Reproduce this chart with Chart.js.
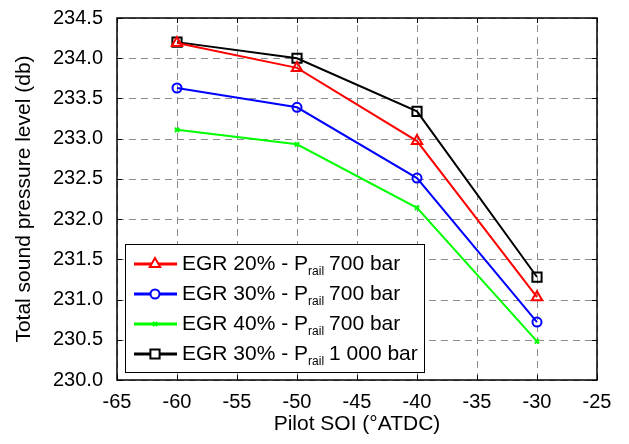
<!DOCTYPE html>
<html>
<head>
<meta charset="utf-8">
<script src="https://cdn.jsdelivr.net/npm/chart.js@4/dist/chart.umd.min.js"></script>
<style>
  html, body { margin: 0; padding: 0; background: #fff; }
  #wrap { width: 629px; height: 444px; }
</style>
</head>
<body>
<div id="wrap"><canvas id="c" width="629" height="444"></canvas></div>
<script>
// data
const soi = [-60, -50, -40, -30];
const egr20_700 = [234.19, 233.88, 232.97, 231.03];
const egr30_700 = [233.63, 233.39, 232.51, 230.72];
const egr40_700 = [233.11, 232.93, 232.14, 230.48];
const egr30_1000 = [234.2, 234.0, 233.34, 231.28];
const seriesNames = ['EGR 20% - P', 'EGR 30% - P', 'EGR 40% - P', 'EGR 30% - P'];
const seriesTails = ['700 bar', '700 bar', '700 bar', '1 000 bar'];
const xTicks = [-65, -60, -55, -50, -45, -40, -35, -30, -25];
const yTicks = [230.0, 230.5, 231.0, 231.5, 232.0, 232.5, 233.0, 233.5, 234.0, 234.5];

const FONT = 'Liberation Sans, Arial, Helvetica, sans-serif';

function pts(vals) {
  return soi.map((x, i) => ({ x: x, y: vals[i] }));
}

const styles = [
  { color: '#ff0000', pointStyle: 'triangle', radius: 6 },
  { color: '#0000ff', pointStyle: 'circle', radius: 4.5 },
  { color: '#00ff00', pointStyle: 'crossRot', radius: 3 },
  { color: '#000000', pointStyle: 'rect', radius: 6.5 }
];
const allVals = [egr20_700, egr30_700, egr40_700, egr30_1000];

const datasets = allVals.map((v, i) => ({
  label: seriesNames[i] + 'rail ' + seriesTails[i],
  data: pts(v),
  borderColor: styles[i].color,
  backgroundColor: 'rgba(0,0,0,0)',
  pointBorderColor: styles[i].color,
  pointBackgroundColor: 'rgba(0,0,0,0)',
  pointStyle: styles[i].pointStyle,
  pointRadius: styles[i].radius,
  pointBorderWidth: 2,
  borderWidth: 2,
  tension: 0
}));

// dashed grid drawn under the lines
const gridPlugin = {
  id: 'dashGrid',
  beforeDatasetsDraw(chart) {
    const ctx = chart.ctx;
    const a = chart.chartArea;
    const xs = chart.scales.x, ys = chart.scales.y;
    ctx.save();
    ctx.strokeStyle = '#8c8c8c';
    ctx.lineWidth = 1;
    ctx.setLineDash([7, 5]);
    xTicks.forEach(v => {
      const px = Math.round(xs.getPixelForValue(v)) + 0.5;
      ctx.beginPath();
      ctx.moveTo(px, a.bottom); ctx.lineTo(px, a.top);
      ctx.stroke();
    });
    yTicks.forEach(v => {
      const py = Math.round(ys.getPixelForValue(v)) + 0.5;
      ctx.beginPath();
      ctx.moveTo(a.left, py); ctx.lineTo(a.right, py);
      ctx.stroke();
    });
    ctx.restore();
  }
};

// frame, inner ticks and legend with subscripts
const framePlugin = {
  id: 'frame',
  afterDraw(chart) {
    const ctx = chart.ctx;
    const a = chart.chartArea;
    const xs = chart.scales.x, ys = chart.scales.y;
    ctx.save();
    ctx.strokeStyle = '#000';
    ctx.lineWidth = 1.5;
    ctx.setLineDash([]);
    ctx.strokeRect(a.left, a.top, a.right - a.left, a.bottom - a.top);
    ctx.lineWidth = 1;
    const t = 5;
    xTicks.forEach(v => {
      const px = Math.round(xs.getPixelForValue(v)) + 0.5;
      ctx.beginPath();
      ctx.moveTo(px, a.bottom); ctx.lineTo(px, a.bottom - t);
      ctx.moveTo(px, a.top); ctx.lineTo(px, a.top + t);
      ctx.stroke();
    });
    yTicks.forEach(v => {
      const py = Math.round(ys.getPixelForValue(v)) + 0.5;
      ctx.beginPath();
      ctx.moveTo(a.left, py); ctx.lineTo(a.left + t, py);
      ctx.moveTo(a.right, py); ctx.lineTo(a.right - t, py);
      ctx.stroke();
    });

    // legend box
    const bx = 125, by = 244, bw = 299, bh = 128;
    ctx.fillStyle = '#fff';
    ctx.fillRect(bx, by, bw, bh);
    ctx.strokeStyle = '#000';
    ctx.lineWidth = 1;
    ctx.strokeRect(bx + 0.5, by + 0.5, bw, bh);
    const rowY = [264, 294, 324, 354];
    ctx.textBaseline = 'middle';
    styles.forEach((s, i) => {
      const y = rowY[i];
      ctx.strokeStyle = s.color;
      ctx.lineWidth = 3;
      ctx.beginPath();
      ctx.moveTo(bx + 9, y); ctx.lineTo(bx + 52, y);
      ctx.stroke();
      ctx.lineWidth = 2;
      ctx.fillStyle = '#fff';
      Chart.helpers.drawPoint(ctx, {
        pointStyle: s.pointStyle, radius: s.radius, borderWidth: 2
      }, bx + 30, y);
      ctx.fillStyle = '#000';
      ctx.font = '21px ' + FONT;
      let x = bx + 57;
      ctx.fillText(seriesNames[i], x, y);
      x += ctx.measureText(seriesNames[i]).width;
      ctx.font = '12px ' + FONT;
      ctx.fillText('rail', x, y + 8);
      x += ctx.measureText('rail').width + 5;
      ctx.font = '21px ' + FONT;
      ctx.fillText(seriesTails[i], x, y);
    });
    ctx.restore();
  }
};

new Chart(document.getElementById('c'), {
  type: 'line',
  data: { datasets: datasets },
  plugins: [gridPlugin, framePlugin],
  options: {
    responsive: false,
    animation: false,
    layout: { padding: { top: 17, right: 32, left: 0, bottom: 0 } },
    plugins: {
      legend: { display: false },
      tooltip: { enabled: false }
    },
    scales: {
      x: {
        type: 'linear',
        min: -65, max: -25,
        afterBuildTicks: s => { s.ticks = xTicks.map(v => ({ value: v })); },
        afterFit: s => { s.height = 64; },
        grid: { display: false },
        border: { display: false },
        ticks: {
          color: '#000', padding: 2, maxRotation: 0,
          font: { family: FONT, size: 20 },
          callback: v => v
        },
        title: {
          display: true, text: 'Pilot SOI (°ATDC)', color: '#000',
          font: { family: FONT, size: 21 }, padding: { top: 2, bottom: 7 }
        }
      },
      y: {
        type: 'linear',
        min: 230, max: 234.5,
        afterBuildTicks: s => { s.ticks = yTicks.map(v => ({ value: v })); },
        afterFit: s => { s.width = 117; },
        grid: { display: false },
        border: { display: false },
        ticks: {
          color: '#000', padding: 6,
          font: { family: FONT, size: 20 },
          callback: v => v.toFixed(1)
        },
        title: {
          display: true, text: 'Total sound pressure level (db)', color: '#000',
          font: { family: FONT, size: 21 }, padding: { top: 12, bottom: 6 }
        }
      }
    }
  }
});
</script>
</body>
</html>
